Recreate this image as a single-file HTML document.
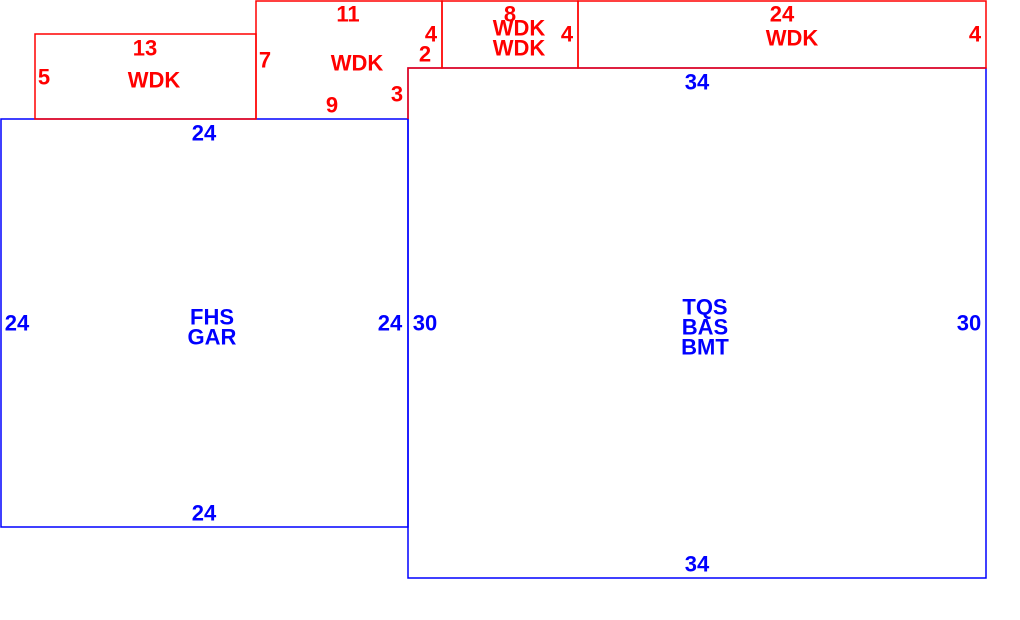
<!DOCTYPE html>
<html><head><style>body{margin:0;background:#fff}svg{display:block}text{font-family:"Liberation Sans",Arial,sans-serif;font-weight:bold;font-size:22px;text-anchor:middle;dominant-baseline:central}</style></head>
<body>
<svg width="1020" height="620" viewBox="0 0 1020 620">
<g fill="none" stroke-width="1.5">
<rect x="1" y="119" width="407" height="408" stroke="#0000ff"/>
<rect x="408" y="68" width="578" height="510" stroke="#0000ff"/>
<rect x="35" y="34" width="221" height="85" stroke="#ff0000"/>
<polyline points="256,119 256,1 442,1 442,68 408,68 408,119" stroke="#ff0000"/>
<rect x="442" y="1" width="136" height="67" stroke="#ff0000"/>
<rect x="578" y="1" width="408" height="67" stroke="#ff0000"/>
</g>
<g fill="#ff0000">
<text x="145" y="48">13</text><text x="44" y="77">5</text><text x="154" y="80">WDK</text>
<text x="348" y="14">11</text><text x="265" y="60">7</text><text x="357" y="63">WDK</text>
<text x="431" y="34">4</text><text x="425" y="54">2</text><text x="397" y="94">3</text><text x="332" y="105">9</text>
<text x="510" y="14">8</text><text x="519" y="28">WDK</text><text x="519" y="48">WDK</text><text x="567" y="34">4</text>
<text x="782" y="14">24</text><text x="792" y="38">WDK</text><text x="975" y="34">4</text>
</g>
<g fill="#0000ff">
<text x="204" y="133">24</text><text x="17" y="323">24</text><text x="390" y="323">24</text><text x="204" y="513">24</text>
<text x="212" y="317">FHS</text><text x="212" y="337">GAR</text>
<text x="697" y="82">34</text><text x="425" y="323">30</text><text x="969" y="323">30</text><text x="697" y="564">34</text>
<text x="705" y="307">TQS</text><text x="705" y="327">BAS</text><text x="705" y="347">BMT</text>
</g>
</svg>
</body></html>
